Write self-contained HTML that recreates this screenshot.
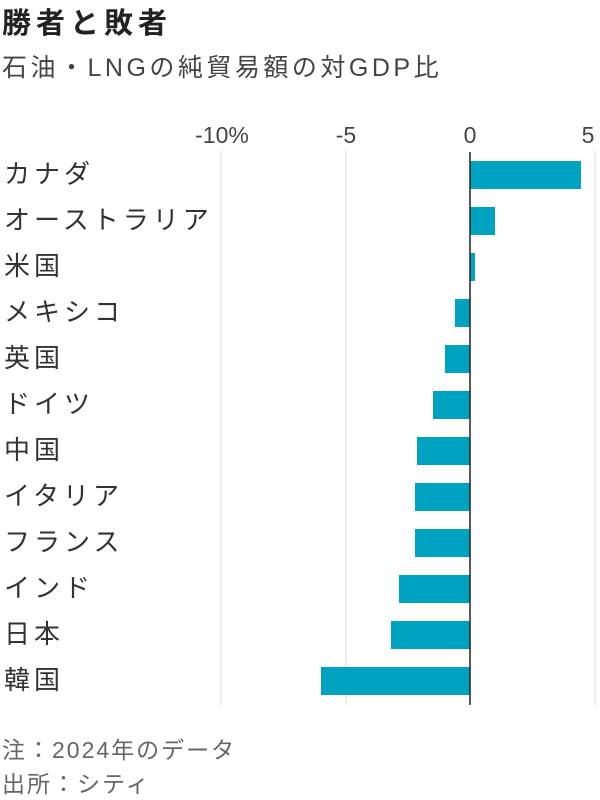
<!DOCTYPE html>
<html><head><meta charset="utf-8"><style>
body{margin:0;width:600px;height:800px;background:#fff;font-family:"Liberation Sans","Noto Sans CJK JP",sans-serif;position:relative;overflow:hidden;color:#333}
.a{position:absolute;white-space:nowrap}
</style></head><body>
<div class="a" style="left:2px;top:0px;font-size:29px;letter-spacing:5px;font-weight:bold;color:#222">勝者と敗者</div>
<div class="a" style="left:2px;top:48px;font-size:25px;letter-spacing:3.5px;color:#444">石油・LNGの純貿易額の対GDP比</div>
<svg class="a" style="left:0;top:0" width="600" height="800">
<g stroke="#ddd" stroke-width="1"><line x1="221" y1="150" x2="221" y2="705"/><line x1="346" y1="150" x2="346" y2="705"/><line x1="595" y1="150" x2="595" y2="705"/></g>
<g font-size="23" fill="#444" text-anchor="middle" font-family="Liberation Sans, Noto Sans CJK JP, sans-serif">
<text x="222" y="143">-10%</text><text x="346" y="143">-5</text><text x="470" y="143">0</text><text x="588" y="143">5</text></g>
<g fill="#00a3bf">
<rect x="470" y="161" width="111" height="28"/>
<rect x="470" y="207" width="25" height="28"/>
<rect x="470" y="253" width="5" height="28"/>
<rect x="455" y="299" width="15" height="28"/>
<rect x="445" y="345" width="25" height="28"/>
<rect x="433" y="391" width="37" height="28"/>
<rect x="417" y="437" width="53" height="28"/>
<rect x="415" y="483" width="55" height="28"/>
<rect x="415" y="529" width="55" height="28"/>
<rect x="399" y="575" width="71" height="28"/>
<rect x="391" y="621" width="79" height="28"/>
<rect x="321" y="667" width="149" height="28"/>
</g>
<line x1="470" y1="152" x2="470" y2="705" stroke="#222" stroke-width="1.5"/>
<g font-size="26" letter-spacing="4" fill="#333" font-family="Liberation Sans, Noto Sans CJK JP, sans-serif">
<text x="4" y="183">カナダ</text><text x="4" y="229">オーストラリア</text><text x="4" y="275">米国</text>
<text x="4" y="321">メキシコ</text><text x="4" y="367">英国</text><text x="4" y="413">ドイツ</text>
<text x="4" y="459">中国</text><text x="4" y="505">イタリア</text><text x="4" y="551">フランス</text>
<text x="4" y="597">インド</text><text x="4" y="643">日本</text><text x="4" y="689">韓国</text></g>
</svg>
<div class="a" style="left:2px;top:731px;font-size:23px;letter-spacing:2px;color:#666">注：2024年のデータ</div>
<div class="a" style="left:2px;top:765px;font-size:23px;letter-spacing:2px;color:#666">出所：シティ</div>
</body></html>
